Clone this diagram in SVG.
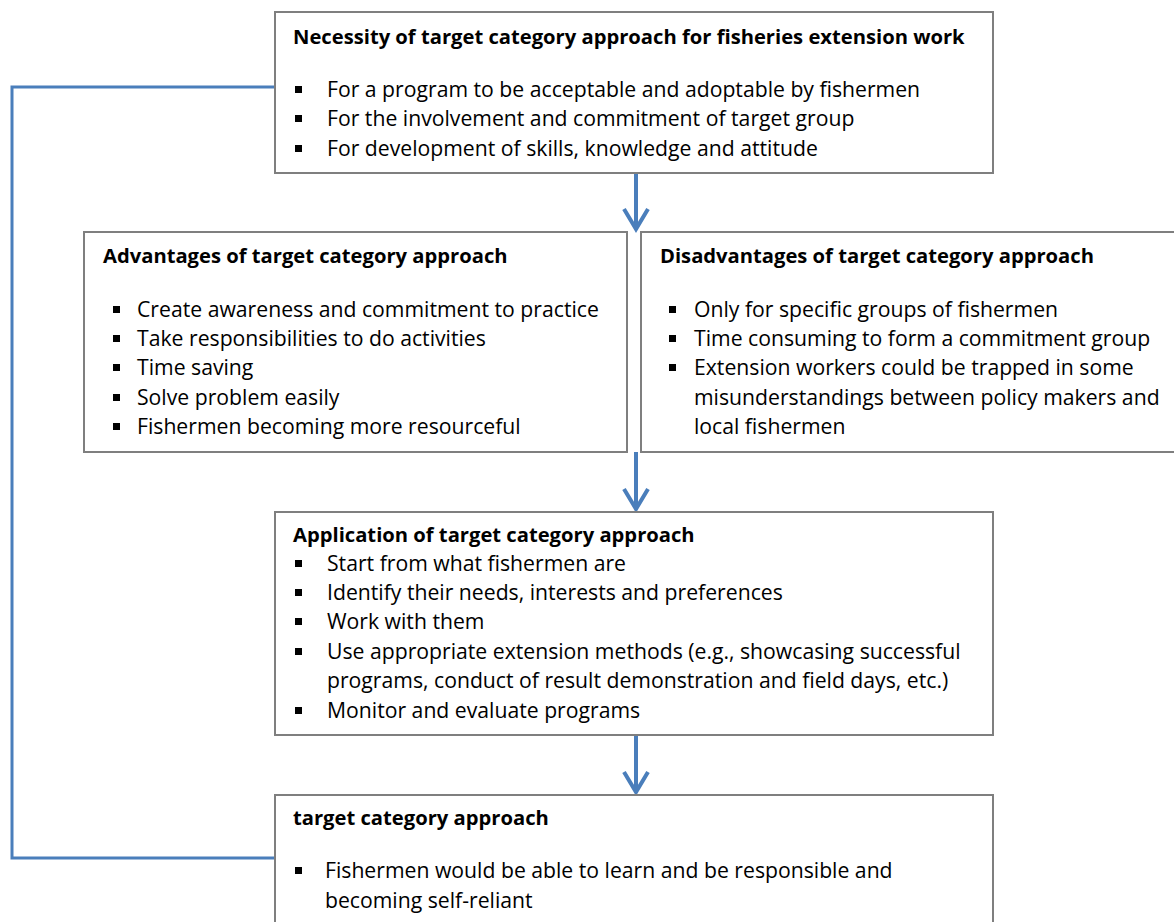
<svg xmlns="http://www.w3.org/2000/svg" width="1174" height="922" viewBox="0 0 1174 922">
<defs>
<style>
.box{fill:#fff;stroke:#7f7f7f;stroke-width:2}
.t{font-family:"Open Sans","Liberation Sans",sans-serif;font-size:21.2px;fill:#000}
.b{font-weight:bold;font-size:20.2px}
.blt{fill:#000}
.conn{fill:none;stroke:#4a7ebb;stroke-width:3}
.arr{fill:none;stroke:#4a7ebb;stroke-width:4}
</style>
</defs>
<g id="connectors">
<polyline class="conn" points="275,87 12,87 12,858 275,858"/>
<line class="arr" x1="636" y1="173" x2="636" y2="229"/>
<polyline class="arr" points="624,209 636,229 648,209"/>
<line class="arr" x1="636" y1="452" x2="636" y2="509"/>
<polyline class="arr" points="624,489 636,509 648,489"/>
<line class="arr" x1="636" y1="735" x2="636" y2="792"/>
<polyline class="arr" points="624,772 636,792 648,772"/>
</g>
<g id="n1">
<rect class="box" x="275" y="12" width="718" height="161"/>
<text class="t b" x="293" y="44">Necessity of target category approach for fisheries extension work</text>
<rect class="blt" x="295" y="86" width="7" height="7"/>
<rect class="blt" x="295" y="115" width="7" height="7"/>
<rect class="blt" x="295" y="145" width="7" height="7"/>
<text class="t" x="327" y="97">For a program to be acceptable and adoptable by fishermen</text>
<text class="t" x="327" y="126">For the involvement and commitment of target group</text>
<text class="t" x="327" y="156">For development of skills, knowledge and attitude</text>
</g>
<g id="n2">
<rect class="box" x="84" y="232" width="543" height="220"/>
<text class="t b" x="103" y="263">Advantages of target category approach</text>
<rect class="blt" x="113" y="306" width="7" height="7"/>
<rect class="blt" x="113" y="335" width="7" height="7"/>
<rect class="blt" x="113" y="364" width="7" height="7"/>
<rect class="blt" x="113" y="394" width="7" height="7"/>
<rect class="blt" x="113" y="423" width="7" height="7"/>
<text class="t" x="137" y="317">Create awareness and commitment to practice</text>
<text class="t" x="137" y="346">Take responsibilities to do activities</text>
<text class="t" x="137" y="375">Time saving</text>
<text class="t" x="137" y="405">Solve problem easily</text>
<text class="t" x="137" y="434">Fishermen becoming more resourceful</text>
</g>
<g id="n3">
<rect class="box" x="641" y="232" width="545" height="220"/>
<text class="t b" x="660" y="263">Disadvantages of target category approach</text>
<rect class="blt" x="669" y="306" width="7" height="7"/>
<rect class="blt" x="669" y="335" width="7" height="7"/>
<rect class="blt" x="669" y="364" width="7" height="7"/>
<text class="t" x="694" y="317">Only for specific groups of fishermen</text>
<text class="t" x="694" y="346">Time consuming to form a commitment group</text>
<text class="t" x="694" y="375">Extension workers could be trapped in some</text>
<text class="t" x="694" y="405">misunderstandings between policy makers and</text>
<text class="t" x="694" y="434">local fishermen</text>
</g>
<g id="n4">
<rect class="box" x="275" y="512" width="718" height="223"/>
<text class="t b" x="293" y="542">Application of target category approach</text>
<rect class="blt" x="295" y="560" width="7" height="7"/>
<rect class="blt" x="295" y="589" width="7" height="7"/>
<rect class="blt" x="295" y="618" width="7" height="7"/>
<rect class="blt" x="295" y="648" width="7" height="7"/>
<rect class="blt" x="295" y="707" width="7" height="7"/>
<text class="t" x="327" y="571">Start from what fishermen are</text>
<text class="t" x="327" y="600">Identify their needs, interests and preferences</text>
<text class="t" x="327" y="629">Work with them</text>
<text class="t" x="327" y="659">Use appropriate extension methods (e.g., showcasing successful</text>
<text class="t" x="327" y="688">programs, conduct of result demonstration and field days, etc.)</text>
<text class="t" x="327" y="718">Monitor and evaluate programs</text>
</g>
<g id="n5">
<rect class="box" x="275" y="795" width="718" height="140"/>
<text class="t b" x="293" y="825">target category approach</text>
<rect class="blt" x="295" y="867" width="7" height="7"/>
<text class="t" x="325" y="878">Fishermen would be able to learn and be responsible and</text>
<text class="t" x="325" y="908">becoming self-reliant</text>
</g>
</svg>
